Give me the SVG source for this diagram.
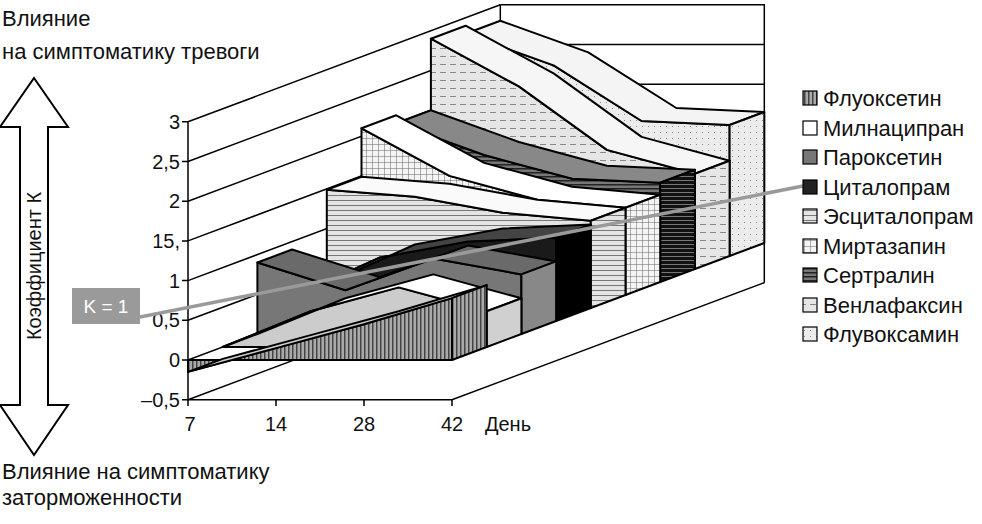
<svg xmlns="http://www.w3.org/2000/svg" width="982" height="524" viewBox="0 0 982 524">
<defs>
<style>
text{font-family:"Liberation Sans",Arial,sans-serif;fill:#111}
.t{font-size:22px}
.ax{font-size:20px}
.e{stroke:#000;stroke-width:2;stroke-linejoin:round}
.g{stroke:#000;stroke-width:1.5;fill:none}
</style>
<pattern id="vs" width="4" height="4" patternUnits="userSpaceOnUse"><rect width="4" height="4" fill="#aaa"/><rect width="1.5" height="4" fill="#444"/></pattern>
<pattern id="hl" width="4" height="5" patternUnits="userSpaceOnUse"><rect width="4" height="5" fill="#e4e4e4"/><rect width="4" height="1" fill="#777"/></pattern>
<pattern id="hd" width="4" height="4" patternUnits="userSpaceOnUse"><rect width="4" height="4" fill="#777"/><rect width="4" height="1.5" fill="#222"/></pattern>
<pattern id="hk" width="4" height="4" patternUnits="userSpaceOnUse"><rect width="4" height="4" fill="#111"/><rect width="4" height="1" fill="#777"/></pattern>
<pattern id="gr" width="6" height="6" patternUnits="userSpaceOnUse"><rect width="6" height="6" fill="#f4f4f4"/><path d="M0 0H6M0 0V6" stroke="#666" stroke-width="1"/></pattern>
<pattern id="dh" width="10" height="8" patternUnits="userSpaceOnUse"><rect width="10" height="8" fill="#e6e6e6"/><rect width="6" height="1" fill="#888"/></pattern>
<pattern id="dt" width="6" height="6" patternUnits="userSpaceOnUse"><rect width="6" height="6" fill="#ececec"/><rect width="1" height="1" fill="#888"/></pattern>
</defs>
<rect width="982" height="524" fill="#fff"/>
<g id="frame" class="g">
<path d="M500.3 4.8H764.3V282.7M500.3 4.8V282.7"/>
<path d="M500.3 44.5H764.3M500.3 84.2H764.3M500.3 123.9H764.3M500.3 163.6H764.3M500.3 203.3H764.3M500.3 243H764.3"/>
<path d="M188 121.8L500.3 4.8M188 161.5L500.3 44.5M188 201.2L500.3 84.2M188 240.9L500.3 123.9M188 280.6L500.3 163.6M188 320.3L500.3 203.3M188 360L500.3 243M188 399.7L500.3 282.7"/>
<path d="M188 121.8V399.7H452L764.3 282.7"/>
<path d="M182 121.8H188M182 161.5H188M182 201.2H188M182 240.9H188M182 280.6H188M182 320.3H188M182 360H188M182 399.7H188M188 399.7V406M276 399.7V406M364 399.7V406M452 399.7V406"/>
</g>
<g id="yaxis" class="ax" text-anchor="end">
<text x="180" y="129">3</text><text x="180" y="169">2,5</text><text x="180" y="208">2</text><text x="180" y="248">15,</text><text x="180" y="288">1</text><text x="180" y="327">0,5</text><text x="180" y="367">0</text><text x="180" y="407">–0,5</text>
</g>
<g id="xaxis" class="ax" text-anchor="middle">
<text x="190" y="431">7</text><text x="276" y="431">14</text><text x="364" y="431">28</text><text x="452" y="431">42</text><text x="508" y="431">День</text>
</g>
<g id="s8" class="e">
<polygon fill="url(#dt)" points="465.6,33.7 553.6,65.4 641.6,121 729.6,125 729.6,256 465.6,256"/>
<polygon fill="#f4f4f4" points="465.6,33.7 553.6,65.4 641.6,121 729.6,125 764.3,112 676.3,108 588.3,52.4 500.3,20.7"/>
<polygon fill="url(#dt)" points="729.6,125 764.3,112 764.3,243 729.6,256"/>
</g>
<g id="s7" class="e">
<polygon fill="url(#dh)" points="430.9,38.7 518.9,86.4 606.9,149.9 694.9,173.7 694.9,269 430.9,269"/>
<polygon fill="#f6f6f6" points="430.9,38.7 518.9,86.4 606.9,149.9 694.9,173.7 729.6,160.7 641.6,136.9 553.6,73.4 465.6,25.7"/>
<polygon fill="url(#dh)" points="694.9,173.7 729.6,160.7 729.6,256 694.9,269"/>
</g>
<g id="s6" class="e">
<polygon fill="url(#hd)" points="396.2,123.2 484.2,155 572.2,178.8 660.2,182.7 660.2,282 396.2,282"/>
<polygon fill="#888" points="396.2,123.2 484.2,155 572.2,178.8 660.2,182.7 694.9,169.7 606.9,165.8 518.9,142 430.9,110.2"/>
<polygon fill="url(#hk)" points="660.2,182.7 694.9,169.7 694.9,269 660.2,282"/>
</g>
<g id="s5" class="e">
<polygon fill="url(#gr)" points="361.5,128.3 449.5,175.9 537.5,199.7 625.5,207.7 625.5,295 361.5,295"/>
<polygon fill="#fff" points="361.5,128.3 449.5,175.9 537.5,199.7 625.5,207.7 660.2,194.7 572.2,186.7 484.2,162.9 396.2,115.3"/>
<polygon fill="url(#gr)" points="625.5,207.7 660.2,194.7 660.2,282 625.5,295"/>
</g>
<g id="s4" class="e">
<polygon fill="url(#hl)" points="326.8,189.7 414.8,196.8 502.8,212.7 590.8,220.7 590.8,308 326.8,308"/>
<polygon fill="#fafafa" points="326.8,189.7 414.8,196.8 502.8,212.7 590.8,220.7 625.5,207.7 537.5,199.7 449.5,183.8 361.5,176.7"/>
<polygon fill="url(#hl)" points="590.8,220.7 625.5,207.7 625.5,295 590.8,308"/>
</g>
<g id="s3" class="e">
<polygon fill="#1a1a1a" points="292.1,297.2 380.1,257.5 468.1,241.6 556.1,237.6 556.1,321 292.1,321"/>
<polygon fill="#444" points="292.1,297.2 380.1,257.5 468.1,241.6 556.1,237.6 590.8,224.6 502.8,228.6 414.8,244.5 326.8,284.2"/>
<polygon fill="#000" points="556.1,237.6 590.8,224.6 590.8,308 556.1,321"/>
</g>
<g id="s2" class="e">
<polygon fill="#777" points="257.4,262.5 345.4,290.3 433.4,258.6 521.4,274.4 521.4,334 257.4,334"/>
<polygon fill="#6a6a6a" points="257.4,262.5 345.4,290.3 433.4,258.6 521.4,274.4 556.1,261.4 468.1,245.6 380.1,277.3 292.1,249.5"/>
<polygon fill="#888" points="521.4,274.4 556.1,261.4 556.1,321 521.4,334"/>
</g>
<g id="s1" class="e">
<polygon fill="#ccc" points="222.7,347 310.7,311.3 398.7,287.4 486.7,311.3 486.7,347"/>
<polygon fill="#fff" points="222.7,347 310.7,311.3 398.7,287.4 486.7,311.3 521.4,298.3 433.4,274.4 345.4,298.3 257.4,334"/>
<polygon fill="#d0d0d0" points="486.7,311.3 521.4,298.3 521.4,334 486.7,347"/>
</g>
<g id="s0" class="e">
<polygon fill="url(#vs)" points="188,371.9 276,348.1 364,324.3 452,298.1 452,360 188,360"/>
<polygon fill="#ccc" points="188,371.9 276,348.1 364,324.3 452,298.1 486.7,285.1 398.7,311.3 310.7,335.1 222.7,358.9"/>
<polygon fill="url(#vs)" points="452,298.1 486.7,285.1 486.7,347 452,360"/>
</g>
<g id="connectors">
<line x1="140" y1="317" x2="803" y2="186" stroke="#9a9a9a" stroke-width="3.5"/>
</g>
<g id="k1">
<rect x="72" y="288" width="68" height="36" fill="#9a9a9a"/>
<text x="106" y="313" text-anchor="middle" style="font-size:19px;fill:#fff">K = 1</text>
</g>
<g id="arrow">
<polygon points="34,78 68,127 48,127 48,405 68,405 34,455 0,405 20,405 20,127 0,127" fill="#fff" stroke="#000" stroke-width="2"/>
<text transform="translate(41,266) rotate(-90)" text-anchor="middle" class="ax">Коэффициент К</text>
</g>
<g id="labels" class="t">
<text x="2" y="26">Влияние</text>
<text x="2" y="59">на симптоматику тревоги</text>
<text x="2" y="479">Влияние на симптоматику</text>
<text x="2" y="505">заторможенности</text>
</g>
<g id="legend" class="t">
<g stroke="#000" stroke-width="1.2">
<rect x="803" y="91" width="14" height="14" fill="url(#vs)"/>
<rect x="803" y="121" width="14" height="14" fill="#fff"/>
<rect x="803" y="150" width="14" height="14" fill="#777"/>
<rect x="803" y="180" width="14" height="14" fill="#222"/>
<rect x="803" y="209" width="14" height="14" fill="url(#hl)"/>
<rect x="803" y="239" width="14" height="14" fill="url(#gr)"/>
<rect x="803" y="268" width="14" height="14" fill="url(#hd)"/>
<rect x="803" y="298" width="14" height="14" fill="url(#dh)"/>
<rect x="803" y="327" width="14" height="14" fill="url(#dt)"/>
</g>
<text x="823" y="106">Флуоксетин</text>
<text x="823" y="136">Милнаципран</text>
<text x="823" y="165">Пароксетин</text>
<text x="823" y="195">Циталопрам</text>
<text x="823" y="224">Эсциталопрам</text>
<text x="823" y="254">Миртазапин</text>
<text x="823" y="283">Сертралин</text>
<text x="823" y="313">Венлафаксин</text>
<text x="823" y="342">Флувоксамин</text>
</g>
</svg>
